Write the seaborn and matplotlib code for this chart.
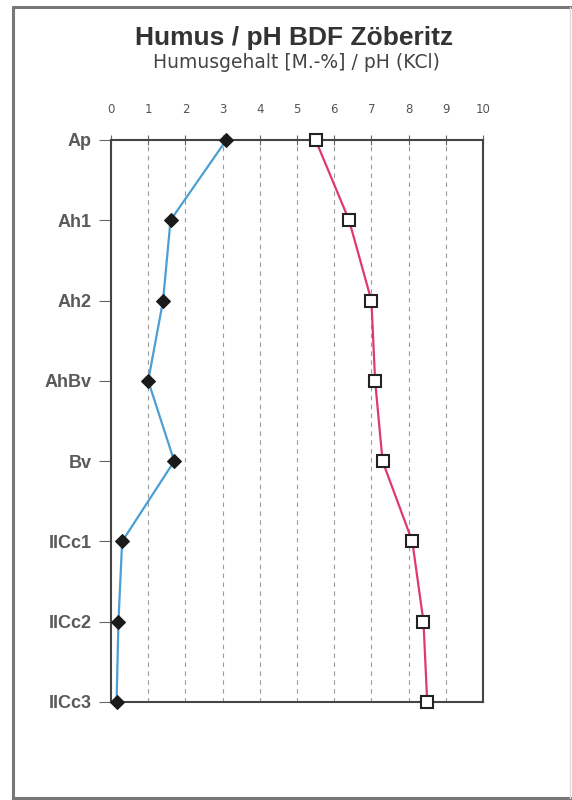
import numpy as np
import pandas as pd
import matplotlib
matplotlib.use("Agg")
import matplotlib.pyplot as plt
from matplotlib.lines import Line2D
import seaborn as sns

# Soil horizons (top to bottom) and measured values
horizons = ["Ap", "Ah1", "Ah2", "AhBv", "Bv", "IICc1", "IICc2", "IICc3"]
humus = [3.1, 1.6, 1.4, 1.0, 1.7, 0.3, 0.2, 0.15]      # Humusgehalt [M.-%]
ph_kcl = [5.5, 6.4, 7.0, 7.1, 7.3, 8.1, 8.4, 8.5]       # pH (KCl)
x_ticks = list(range(0, 11))

df = pd.DataFrame({
    "horizon": horizons,
    "depth": np.arange(len(horizons)),
    "humus": humus,
    "ph": ph_kcl,
})

sns.set_style("white")
plt.rcParams["font.family"] = ["Liberation Sans", "DejaVu Sans"]

fig = plt.figure(figsize=(5.72, 8.0), dpi=100)
W, H = 572, 800
ax = fig.add_axes([111 / W, 1 - 702 / H, (483 - 111) / W, (702 - 140) / H])

# Dashed vertical grid lines
for v in x_ticks[1:-1]:
    ax.axvline(v, color="#9a9a9a", lw=0.8, ls=(0, (4, 4)), zorder=0)

sns.lineplot(data=df, x="humus", y="depth", sort=False, ax=ax,
             color="#4b9fd2", lw=1.6, marker="D", markersize=7,
             markerfacecolor="#1a1a1a", markeredgecolor="#1a1a1a",
             clip_on=False, zorder=3)
sns.lineplot(data=df, x="ph", y="depth", sort=False, ax=ax,
             color="#e03a6c", lw=1.6, marker="s", markersize=8.5,
             markerfacecolor="white", markeredgecolor="#222222",
             markeredgewidth=1.5, clip_on=False, zorder=3)

ax.set_xlim(0, 10)
ax.set_ylim(len(horizons) - 1, 0)
ax.set_xlabel("")
ax.set_ylabel("")

ax.xaxis.tick_top()
ax.set_xticks(x_ticks)
ax.set_xticklabels([str(t) for t in x_ticks], fontsize=8.5, color="#555555",
                   family=["DejaVu Sans"])
ax.tick_params(axis="x", direction="inout", length=7, width=0.8,
               color="#666666", pad=14, top=True, bottom=False)

ax.set_yticks(df["depth"])
ax.set_yticklabels(horizons, fontsize=13, color="#5a5a5a", fontweight="bold")
ax.tick_params(axis="y", direction="out", length=9, width=0.8,
               color="#666666", pad=5, left=True)

for s in ax.spines.values():
    s.set_color("#444444")
    s.set_linewidth(1.5)
    s.set_visible(True)

fig.text(294 / W, 1 - 45 / H, "Humus / pH BDF Zöberitz", ha="center",
         va="baseline", fontsize=19, fontweight="bold", color="#333333")
fig.text(296 / W, 1 - 68 / H, "Humusgehalt [M.-%] / pH (KCl)", ha="center",
         va="baseline", fontsize=13.5, color="#444444", family=["DejaVu Sans"])

# Page frame
frame = dict(transform=fig.transFigure, color="#777777", lw=2.2)
fig.add_artist(Line2D([13 / W, 13 / W], [1 - 7 / H, 1 - 799 / H], **frame))
fig.add_artist(Line2D([13 / W, 1.0], [1 - 7 / H, 1 - 7 / H], **frame))
fig.add_artist(Line2D([13 / W, 1.0], [1 - 798 / H, 1 - 798 / H], **frame))
fig.add_artist(Line2D([570 / W, 570 / W], [1 - 7 / H, 1 - 798 / H],
                      transform=fig.transFigure, color="#dddddd", lw=1.0))

fig.savefig("out.png", dpi=100, facecolor="white")
